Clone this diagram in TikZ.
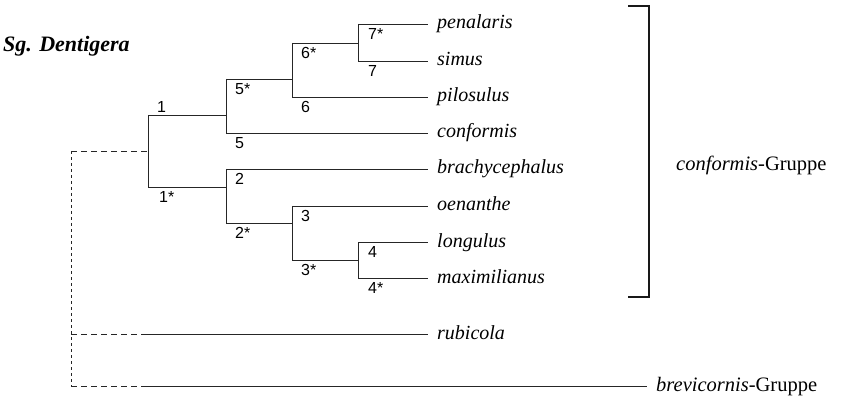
\documentclass[tikz,border=0pt]{standalone}
\usepackage{fontspec}
\setmainfont{Liberation Serif}
\setsansfont{Liberation Sans}
\begin{document}
\begin{tikzpicture}[x=1pt,y=-1pt,
  br/.style={line width=0.9pt, black!85},
  leafline/.style={br, shorten >=9pt},
  dsh/.style={line width=0.9pt, black!85, dash pattern=on 6pt off 4pt},
  dshv/.style={line width=0.9pt, black!85, dash pattern=on 3pt off 3pt},
  sp/.style={font=\fontsize{20}{20}\selectfont\itshape, anchor=base west, inner sep=0pt},
  grp/.style={font=\fontsize{20.5}{20.5}\selectfont, anchor=base west, inner sep=0pt},
  lab/.style={font=\sffamily\fontsize{16}{16}\selectfont, inner sep=0pt, anchor=north west},
  labup/.style={font=\sffamily\fontsize{16}{16}\selectfont, inner sep=0pt, anchor=base west},
  brk/.style={line width=2pt, black!90, line join=miter}
]
\useasboundingbox (0,0) rectangle (842,403);

% title
\node[font=\fontsize{22}{22}\selectfont\bfseries\itshape, anchor=base west, inner sep=0pt] (title) at (3,52) {Sg. Dentigera};

% tree coordinates
\coordinate (rt) at (71,151);
\coordinate (rr) at (71,334);
\coordinate (rb) at (71,386);
\coordinate (n1t) at (148,115); \coordinate (n1b) at (148,187); \coordinate (n1m) at (148,151);
\coordinate (n5t) at (226,79);  \coordinate (n5b) at (226,133); \coordinate (n5m) at (226,115);
\coordinate (n6t) at (292,43);  \coordinate (n6b) at (292,97);  \coordinate (n6m) at (292,79);
\coordinate (n7t) at (358,24);  \coordinate (n7b) at (358,61);  \coordinate (n7m) at (358,43);
\coordinate (n2t) at (226,169); \coordinate (n2b) at (226,223); \coordinate (n2m) at (226,187);
\coordinate (n3t) at (292,206); \coordinate (n3b) at (292,260); \coordinate (n3m) at (292,223);
\coordinate (n4t) at (358,242); \coordinate (n4b) at (358,278); \coordinate (n4m) at (358,260);
\coordinate (r1) at (147,334);
\coordinate (b1) at (147,386);

% leaves
\node[sp] (pen) at (437,29) {penalaris};
\node[sp] (sim) at (437,66) {simus};
\node[sp] (pil) at (437,102) {pilosulus};
\node[sp] (con) at (437,138) {conformis};
\node[sp] (bra) at (437,174) {brachycephalus};
\node[sp] (oen) at (437,211) {oenanthe};
\node[sp] (lon) at (437,247) {longulus};
\node[sp] (max) at (437,283) {maximilianus};
\node[sp] (rub) at (437,339) {rubicola};
\node[grp] (bre) at (656,391) {\textit{brevicornis}-Gruppe};
\node[grp] (cgr) at (676,171) {\textit{conformis}-Gruppe};

% verticals
\draw[br] (n1t) -- (n1b);
\draw[br] (n5t) -- (n5b);
\draw[br] (n6t) -- (n6b);
\draw[br] (n7t) -- (n7b);
\draw[br] (n2t) -- (n2b);
\draw[br] (n3t) -- (n3b);
\draw[br] (n4t) -- (n4b);
% internal horizontals
\draw[br] (n1t) -- (n5m);
\draw[br] (n1b) -- (n2m);
\draw[br] (n5t) -- (n6m);
\draw[br] (n6t) -- (n7m);
\draw[br] (n2b) -- (n3m);
\draw[br] (n3b) -- (n4m);
% leaf lines
\draw[leafline] (n7t) -- (n7t -| pen.west);
\draw[leafline] (n7b) -- (n7b -| sim.west);
\draw[leafline] (n6b) -- (n6b -| pil.west);
\draw[leafline] (n5b) -- (n5b -| con.west);
\draw[leafline] (n2t) -- (n2t -| bra.west);
\draw[leafline] (n3t) -- (n3t -| oen.west);
\draw[leafline] (n4t) -- (n4t -| lon.west);
\draw[leafline] (n4b) -- (n4b -| max.west);
\draw[leafline] (r1) -- (r1 -| rub.west);
\draw[br, shorten >=9pt] (b1) -- (b1 -| bre.west);
% dashed
\draw[dshv] (rt) -- (rb);
\draw[dsh] (rt) -- (n1m);
\draw[dsh] (rr) -- (r1);
\draw[dsh] (rb) -- (b1);

% labels
\node[labup] (l1) at (157,113) {1};
\node[lab] (l1s) at (159,191) {1*};
\node[lab] (l5s) at (235,83) {5*};
\node[lab] (l5) at (235,137) {5};
\node[lab] (l6s) at (301,47) {6*};
\node[lab] (l6) at (301,101) {6};
\node[lab] (l7s) at (368,28) {7*};
\node[lab] (l7) at (368,65) {7};
\node[lab] (l2) at (235,173) {2};
\node[lab] (l2s) at (235,227) {2*};
\node[lab] (l3) at (301,210) {3};
\node[lab] (l3s) at (301,264) {3*};
\node[lab] (l4) at (368,246) {4};
\node[lab] (l4s) at (368,282) {4*};

% bracket
\coordinate (bk1) at (628,6);
\coordinate (bk2) at (649,6);
\coordinate (bk3) at (649,297);
\coordinate (bk4) at (628,297);
\draw[brk] (bk1) -- (bk2) -- (bk3) -- (bk4);
\end{tikzpicture}
\end{document}
